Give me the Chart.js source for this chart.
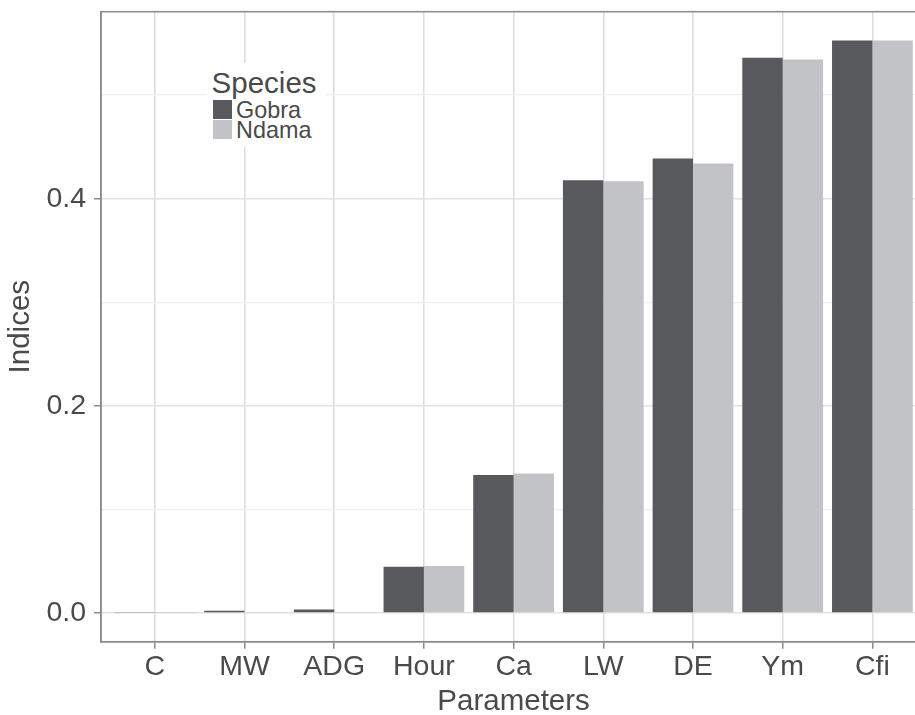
<!DOCTYPE html>
<html>
<head>
<meta charset="utf-8">
<script src="https://cdn.jsdelivr.net/npm/chart.js@4.4.1/dist/chart.umd.min.js"></script>
<style>
  html, body { margin: 0; padding: 0; background: #fff; overflow: hidden; }
  #wrap { position: relative; width: 930px; height: 715px; }
  #legend {
    position: absolute; left: 206px; top: 63px; width: 120px; height: 84px;
    background: #fff; font-family: "Liberation Sans", Arial, Helvetica, sans-serif; color: #4a4a4a;
  }
  #legend .title { position: absolute; left: 5.6px; top: 5.3px; font-size: 29.5px; line-height: 29.5px; white-space: nowrap; }
  #legend .key { position: absolute; left: 7px; width: 19px; height: 19px; }
  #legend .lab { position: absolute; left: 30px; font-size: 23.4px; line-height: 23.4px; white-space: nowrap; }
</style>
</head>
<body>
<div id="wrap">
  <canvas id="chart" width="930" height="715"></canvas>
  <div id="legend"></div>
</div>
<script>
// =============== DATA ===============

const parameters = ["C", "MW", "ADG", "Hour", "Ca", "LW", "DE", "Ym", "Cfi"];

const seriesNames = ["Gobra", "Ndama"];
const gobraValues = [0.0005, 0.0022, 0.0035, 0.0447, 0.1332, 0.4177, 0.4389, 0.5360, 0.5527];
const ndamaValues = [0.0003, 0.0010, 0.0010, 0.0454, 0.1348, 0.4167, 0.4340, 0.5344, 0.5527];
const seriesColors = ["#58595d", "#c2c3c7"];

const yMajor = [0, 0.2, 0.4];
const yMinor = [0.1, 0.3, 0.5];
const yTickLabels = ["0.0", "0.2", "0.4"];

const legendTitle = "Species";
const xTitle = "Parameters";
const yTitle = "Indices";

// =============== CHART ===============

const FONT = '"Liberation Sans", Arial, Helvetica, sans-serif';
const TEXT = "#4a4a4a";
const BORDER = "#8a8a8a";

const panelBorder = {
  id: "panelBorder",
  afterDraw(chart) {
    const { ctx, chartArea: a } = chart;
    ctx.save();
    ctx.strokeStyle = BORDER;
    ctx.lineWidth = 1.5;
    ctx.strokeRect(a.left, a.top, a.right - a.left, a.bottom - a.top);
    ctx.restore();
  },
};

function isMajor(v) {
  return yMajor.indexOf(v) !== -1;
}

new Chart(document.getElementById("chart"), {
  type: "bar",
  data: {
    labels: parameters,
    datasets: [
      {
        label: seriesNames[0],
        data: gobraValues,
        backgroundColor: seriesColors[0],
        borderWidth: 0,
        categoryPercentage: 0.9,
        barPercentage: 1.0,
      },
      {
        label: seriesNames[1],
        data: ndamaValues,
        backgroundColor: seriesColors[1],
        borderWidth: 0,
        categoryPercentage: 0.9,
        barPercentage: 1.0,
      },
    ],
  },
  options: {
    responsive: false,
    animation: false,
    layout: { padding: { top: 11.7, left: 0, right: 3.8, bottom: 0 } },
    plugins: {
      legend: { display: false },
      tooltip: { enabled: false },
    },
    scales: {
      x: {
        offset: true,
        // ggplot-style 0.6 category expansion on each side
        afterBuildTicks: (s) => {
          s._startValue = s.min - 0.6;
          s._valueRange = s.max - s.min + 1.2;
        },
        afterFit: (s) => {
          s.height = 73.3;
          s.paddingLeft = 0;
          s.paddingRight = 0;
        },
        grid: {
          offset: false,
          color: "#dcdcdc",
          lineWidth: 1.5,
          tickLength: 7,
          tickColor: BORDER,
          tickWidth: 1.5,
        },
        border: { color: BORDER, width: 1.5 },
        ticks: {
          color: TEXT,
          padding: 1,
          font: { family: FONT, size: 28.5 },
          maxRotation: 0,
          autoSkip: false,
        },
        title: {
          display: true,
          text: xTitle,
          color: TEXT,
          padding: { top: 0, bottom: 0 },
          font: { family: FONT, size: 29.5, lineHeight: 0.9 },
        },
      },
      y: {
        min: -0.0277,
        max: 0.5805,
        afterBuildTicks: (s) => {
          s.ticks = yMajor.concat(yMinor).sort((a, b) => a - b).map((v) => ({ value: v }));
        },
        afterFit: (s) => {
          s.width = 101;
          s.paddingTop = 0;
          s.paddingBottom = 0;
        },
        grid: {
          color: (c) => (c.tick && isMajor(c.tick.value) ? "#e2e2e2" : "#efefef"),
          lineWidth: (c) => (c.tick && isMajor(c.tick.value) ? 1.5 : 1.2),
          tickLength: 7,
          tickColor: (c) => (c.tick && isMajor(c.tick.value) ? BORDER : "rgba(0,0,0,0)"),
          tickWidth: 1.5,
        },
        border: { color: BORDER, width: 1.5 },
        ticks: {
          color: TEXT,
          padding: 8,
          font: { family: FONT, size: 28.5 },
          callback: (v) => {
            const i = yMajor.indexOf(v);
            return i === -1 ? "" : yTickLabels[i];
          },
        },
        title: {
          display: true,
          text: yTitle,
          color: TEXT,
          padding: { top: 3, bottom: 0 },
          font: { family: FONT, size: 29.5 },
        },
      },
    },
  },
  plugins: [panelBorder],
});

// =============== LEGEND ===============

function buildLegend() {
  const box = document.getElementById("legend");
  const t = document.createElement("div");
  t.className = "title";
  t.textContent = legendTitle;
  box.appendChild(t);

  seriesNames.forEach((name, i) => {
    const key = document.createElement("div");
    key.className = "key";
    key.style.top = (37 + i * 20) + "px";
    key.style.background = seriesColors[i];
    box.appendChild(key);

    const lab = document.createElement("div");
    lab.className = "lab";
    lab.style.top = (35.5 + i * 20) + "px";
    lab.textContent = name;
    box.appendChild(lab);
  });
}

buildLegend();
</script>
</body>
</html>
